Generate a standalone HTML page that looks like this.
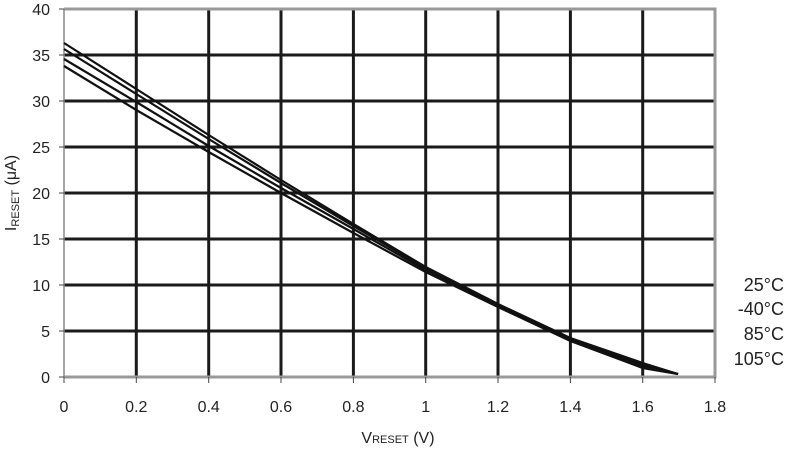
<!DOCTYPE html><html><head><style>body{margin:0;background:#fff}svg{display:block;font-family:"Liberation Sans",sans-serif}</style></head><body>
<svg width="785" height="449" viewBox="0 0 785 449">
<g stroke="#1a1a1a" stroke-width="3">
<line x1="64" x2="715" y1="55" y2="55"/><line x1="64" x2="715" y1="101" y2="101"/><line x1="64" x2="715" y1="147" y2="147"/><line x1="64" x2="715" y1="193" y2="193"/><line x1="64" x2="715" y1="239" y2="239"/><line x1="64" x2="715" y1="285" y2="285"/><line x1="64" x2="715" y1="331" y2="331"/>
<line x1="136.3" x2="136.3" y1="9" y2="377"/><line x1="208.7" x2="208.7" y1="9" y2="377"/><line x1="281" x2="281" y1="9" y2="377"/><line x1="353.4" x2="353.4" y1="9" y2="377"/><line x1="425.7" x2="425.7" y1="9" y2="377"/><line x1="498" x2="498" y1="9" y2="377"/><line x1="570.4" x2="570.4" y1="9" y2="377"/><line x1="642.7" x2="642.7" y1="9" y2="377"/>
</g>
<g stroke="#999" stroke-width="3" fill="none"><polyline points="64,9 715,9 715,377 64,377"/></g>
<line x1="64" x2="64" y1="9" y2="377" stroke="#888" stroke-width="1.5"/>
<g stroke="#444" stroke-width="1"><line x1="59" x2="64" y1="9" y2="9"/><line x1="59" x2="64" y1="55" y2="55"/><line x1="59" x2="64" y1="101" y2="101"/><line x1="59" x2="64" y1="147" y2="147"/><line x1="59" x2="64" y1="193" y2="193"/><line x1="59" x2="64" y1="239" y2="239"/><line x1="59" x2="64" y1="285" y2="285"/><line x1="59" x2="64" y1="331" y2="331"/><line x1="59" x2="64" y1="377" y2="377"/>
<line x1="64" x2="64" y1="377" y2="383"/><line x1="136.3" x2="136.3" y1="377" y2="383"/><line x1="208.7" x2="208.7" y1="377" y2="383"/><line x1="281" x2="281" y1="377" y2="383"/><line x1="353.4" x2="353.4" y1="377" y2="383"/><line x1="425.7" x2="425.7" y1="377" y2="383"/><line x1="498" x2="498" y1="377" y2="383"/><line x1="570.4" x2="570.4" y1="377" y2="383"/><line x1="642.7" x2="642.7" y1="377" y2="383"/><line x1="715" x2="715" y1="377" y2="383"/></g>
<g fill="none" stroke="#111" stroke-width="2.2">
<polyline points="64,43 136.3,89 208.7,135 281,180 353.4,224 425.7,267 498,304 570.4,338 642.7,363 678,374"/>
<polyline points="64,49 136.3,94 208.7,139 281,183 353.4,226 425.7,268 498,305 570.4,339 642.7,364 678,374"/>
<polyline points="64,59 136.3,102 208.7,146 281,188 353.4,229 425.7,270 498,306 570.4,340 642.7,366 678,374"/>
<polyline points="64,66 136.3,110 208.7,152 281,193 353.4,233 425.7,272 498,307 570.4,341 642.7,368 678,374"/>
</g>
<g font-size="16" fill="#222" text-anchor="end"><text x="50" y="15">40</text><text x="50" y="61">35</text><text x="50" y="107">30</text><text x="50" y="153">25</text><text x="50" y="199">20</text><text x="50" y="245">15</text><text x="50" y="291">10</text><text x="50" y="337">5</text><text x="50" y="383">0</text></g>
<g font-size="16" fill="#222" text-anchor="middle"><text x="64" y="412">0</text><text x="136.3" y="412">0.2</text><text x="208.7" y="412">0.4</text><text x="281" y="412">0.6</text><text x="353.4" y="412">0.8</text><text x="425.7" y="412">1</text><text x="498" y="412">1.2</text><text x="570.4" y="412">1.4</text><text x="642.7" y="412">1.6</text><text x="715" y="412">1.8</text></g>
<text x="398" y="443" font-size="16" fill="#222" text-anchor="middle">V<tspan font-size="11">RESET</tspan> (V)</text>
<text transform="translate(16,193) rotate(-90)" font-size="16" fill="#222" text-anchor="middle">I<tspan font-size="11" dy="3">RESET</tspan><tspan dy="-3"> (μA)</tspan></text>
<g font-size="18" fill="#222" text-anchor="end"><text x="784" y="291">25°C</text><text x="784" y="315">-40°C</text><text x="784" y="340">85°C</text><text x="784" y="365">105°C</text></g>
</svg></body></html>
